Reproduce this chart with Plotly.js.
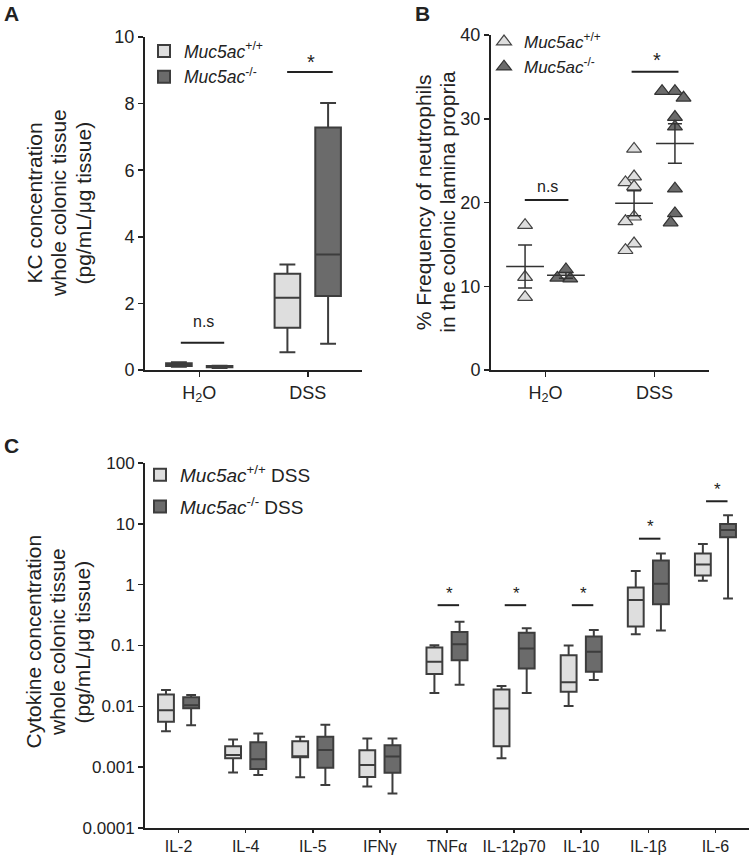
<!DOCTYPE html>
<html>
<head>
<meta charset="utf-8">
<script src="https://cdn.plot.ly/plotly-3.0.1.min.js"></script>
<style>html,body{margin:0;padding:0;background:#fff;}</style>
</head>
<body>
<div id="chart" style="width:752px;height:855px;"></div>
<script>
// ---------------- DATA ----------------
// Panel A: KC concentration (box summaries)
const aCategories = ['H<sub>2</sub>O', 'DSS'];
const aWtLow  = [0.10, 0.53];
const aWtQ1   = [0.12, 1.27];
const aWtMed  = [0.16, 2.17];
const aWtQ3   = [0.20, 2.89];
const aWtHigh = [0.23, 3.17];
const aKoLow  = [0.06, 0.79];
const aKoQ1   = [0.08, 2.22];
const aKoMed  = [0.10, 3.47];
const aKoQ3   = [0.12, 7.28];
const aKoHigh = [0.13, 8.02];

// Panel B: % neutrophils, individual mice
const bCategories = ['H<sub>2</sub>O', 'DSS'];
const bWtH2O = [17.3, 11.1, 8.7];
const bKoH2O = [12.0, 11.0, 10.9];
const bWtDSS = [26.4, 23.1, 22.4, 21.9, 18.3, 17.75, 15.1, 14.3];
const bKoDSS = [33.3, 33.3, 32.5, 30.2, 29.05, 21.65, 18.7, 17.6];

// Panel C: cytokines (box summaries)
const cCategories = ['IL-2', 'IL-4', 'IL-5', 'IFNγ', 'TNFα', 'IL-12p70', 'IL-10', 'IL-1β', 'IL-6'];
const cWtLow  = [0.0039, 0.00082, 0.00068, 0.00048, 0.0165, 0.0014, 0.0101, 0.153, 1.16];
const cWtQ1   = [0.0056, 0.0014, 0.00145, 0.00069, 0.034, 0.0022, 0.0173, 0.205, 1.42];
const cWtMed  = [0.0086, 0.00159, 0.0015, 0.00109, 0.054, 0.0092, 0.025, 0.56, 2.15];
const cWtQ3   = [0.0157, 0.0022, 0.00267, 0.0019, 0.093, 0.019, 0.069, 0.90, 3.25];
const cWtHigh = [0.0185, 0.00284, 0.00316, 0.00295, 0.101, 0.0215, 0.100, 1.68, 4.65];
const cKoLow  = [0.0049, 0.00074, 0.00051, 0.00037, 0.0227, 0.0165, 0.027, 0.176, 0.59];
const cKoQ1   = [0.0093, 0.00093, 0.00098, 0.00081, 0.057, 0.042, 0.037, 0.475, 6.0];
const cKoMed  = [0.0104, 0.00135, 0.00192, 0.0015, 0.105, 0.089, 0.079, 1.04, 7.9];
const cKoQ3   = [0.0141, 0.00257, 0.00316, 0.0023, 0.167, 0.162, 0.14, 2.50, 9.9];
const cKoHigh = [0.0154, 0.00356, 0.0050, 0.00295, 0.245, 0.192, 0.18, 3.26, 13.8];
const cTickVals = [0.0001, 0.001, 0.01, 0.1, 1, 10, 100];
const cTickText = ['0.0001', '0.001', '0.01', '0.1', '1', '10', '100'];
// significance marks in C: category and bar height
const cSigCats = ['TNFα', 'IL-12p70', 'IL-10', 'IL-1β', 'IL-6'];
const cSigBarY = [0.46, 0.46, 0.46, 5.7, 23.5];

// ---------------- STYLE / LAYOUT ----------------
const W = 752, H = 855;
const FONT = 'Arial, "Liberation Sans", Helvetica, sans-serif';
const INK = '#222';
const EDGE = '#3d3d3d';
const LIGHT = '#dedede';
const DARK = '#6b6b6b';
const fx = px => px / W;
const fy = py => 1 - py / H;

// pixel geometry of the three plot areas
const A_BOX = {l: 145, r: 362, t: 37, b: 370};
const B_BOX = {l: 491, r: 709, t: 35, b: 370};
const C_BOX = {l: 145, r: 749, t: 463, b: 828};
const B_YMAX = 40;

const axisBase = {
  showline: true, linecolor: INK, linewidth: 2,
  ticks: 'outside', ticklen: 5, tickwidth: 1.5, tickcolor: INK,
  showgrid: false, zeroline: false, fixedrange: true,
  tickfont: {family: FONT, size: 18, color: INK}
};

const lblWt = '<i>Muc5ac</i><sup>+/+</sup>';
const lblKo = '<i>Muc5ac</i><sup>-/-</sup>';

function boxTrace(name, x, lo, q1, med, q3, hi, fill, ax, ay, legend, grp) {
  return {
    type: 'box', name: name, x: x,
    lowerfence: lo, q1: q1, median: med, q3: q3, upperfence: hi,
    xaxis: ax, yaxis: ay, fillcolor: fill,
    line: {color: EDGE, width: 2}, whiskerwidth: 0.62,
    boxpoints: false, hoverinfo: 'skip',
    offsetgroup: grp, legend: legend, legendgroup: legend + grp
  };
}

// simple deterministic beeswarm in pixel space
function swarm(vals, center) {
  const pxX = (B_BOX.r - B_BOX.l) / 2;
  const pxY = (B_BOX.b - B_BOX.t) / B_YMAX;
  const step = 4.3, minD = 9.5;
  const order = vals.map((v, i) => i).sort((a, b) => vals[b] - vals[a]);
  const placed = [];
  const xs = new Array(vals.length);
  order.forEach(i => {
    const y = vals[i] * pxY;
    for (let k = 0; k < 40; k++) {
      const off = (k === 0) ? 0 : Math.ceil(k / 2) * step * (k % 2 ? -1 : 1);
      if (placed.every(p => Math.hypot(p.x - off, p.y - y) >= minD)) {
        placed.push({x: off, y: y});
        xs[i] = center + off / pxX;
        break;
      }
    }
  });
  return xs;
}
const mean = a => a.reduce((s, v) => s + v, 0) / a.length;
const sem = a => {
  const m = mean(a);
  return Math.sqrt(a.reduce((s, v) => s + (v - m) * (v - m), 0) / (a.length - 1)) / Math.sqrt(a.length);
};

const GOFF = 0.1875; // group offset of the two genotypes (category units)

const traces = [];
// Panel A
traces.push(boxTrace(lblWt, aCategories, aWtLow, aWtQ1, aWtMed, aWtQ3, aWtHigh, LIGHT, 'x', 'y', 'legend', 'wt'));
traces.push(boxTrace(lblKo, aCategories, aKoLow, aKoQ1, aKoMed, aKoQ3, aKoHigh, DARK, 'x', 'y', 'legend', 'ko'));

// Panel B
const bGroups = [
  {vals: bWtH2O, cat: 0, off: -GOFF, fill: LIGHT, line: '#444', name: lblWt, show: true},
  {vals: bKoH2O, cat: 0, off: GOFF, fill: DARK, line: '#333', name: lblKo, show: true},
  {vals: bWtDSS, cat: 1, off: -GOFF, fill: LIGHT, line: '#444', name: lblWt, show: false},
  {vals: bKoDSS, cat: 1, off: GOFF, fill: DARK, line: '#333', name: lblKo, show: false}
];
bGroups.forEach(g => {
  const c = g.cat + g.off;
  traces.push({
    type: 'scatter', mode: 'markers', xaxis: 'x2', yaxis: 'y2',
    x: swarm(g.vals, c), y: g.vals, name: g.name, showlegend: g.show,
    legend: 'legend2', hoverinfo: 'skip', cliponaxis: false,
    marker: {symbol: 'triangle-up', size: 13, color: g.fill, line: {color: g.line, width: 1.2}}
  });
  traces.push({
    type: 'scatter', mode: 'markers', xaxis: 'x2', yaxis: 'y2',
    x: [c], y: [mean(g.vals)], showlegend: false, hoverinfo: 'skip',
    marker: {symbol: 'line-ew', size: 27, color: '#333', line: {color: '#333', width: 1.5}},
    error_y: {type: 'data', array: [sem(g.vals)], visible: true, color: '#333', thickness: 1.5, width: 7}
  });
});

// Panel C
traces.push(boxTrace(lblWt + ' DSS', cCategories, cWtLow, cWtQ1, cWtMed, cWtQ3, cWtHigh, LIGHT, 'x3', 'y3', 'legend3', 'wt'));
traces.push(boxTrace(lblKo + ' DSS', cCategories, cKoLow, cKoQ1, cKoMed, cKoQ3, cKoHigh, DARK, 'x3', 'y3', 'legend3', 'ko'));

// ---------------- ANNOTATIONS & SHAPES ----------------
const shapes = [];
const annotations = [];
function sigLine(xref, yref, x0, x1, y) {
  shapes.push({type: 'line', xref: xref, yref: yref, x0: x0, x1: x1, y0: y, y1: y,
    line: {color: INK, width: 2}});
}
function txt(xref, yref, x, y, text, size, extra) {
  annotations.push(Object.assign({xref: xref, yref: yref, x: x, y: y, text: text, showarrow: false,
    xanchor: 'center', yanchor: 'middle', font: {family: FONT, size: size, color: INK}}, extra || {}));
}
// A
sigLine('x', 'y', -0.17, 0.23, 0.82);
txt('x', 'y', 0.04, 1.45, 'n.s', 16);
sigLine('x', 'y', 0.81, 1.23, 8.95);
txt('x', 'y', 1.03, 9.25, '*', 20);
// B
sigLine('x2', 'y2', -0.19, 0.21, 20.3);
txt('x2', 'y2', 0.02, 21.9, 'n.s', 16);
sigLine('x2', 'y2', 0.79, 1.22, 35.6);
txt('x2', 'y2', 1.02, 37.0, '*', 20);
// C
cSigCats.forEach((cat, i) => {
  const k = cCategories.indexOf(cat);
  sigLine('x3', 'y3', k - 0.14, k + 0.18, cSigBarY[i]);
  txt('x3', 'y3', k + 0.03, Math.log10(cSigBarY[i]) + 0.2, '*', 17);
});

// axis titles (rotated, one annotation per line for tight line spacing)
function vTitle(lines, cx, cy, gap, size) {
  lines.forEach((ln, i) => {
    const x = cx + (i - (lines.length - 1) / 2) * gap;
    txt('paper', 'paper', fx(x), fy(cy), ln, size, {textangle: -90});
  });
}
vTitle(['KC concentration', 'whole colonic tissue', '(pg/mL/μg tissue)'], 58, 203, 24.5, 21);
vTitle(['% Frequency of neutrophils', 'in the colonic lamina propria'], 435, 202, 23.5, 21);
vTitle(['Cytokine concentration', 'whole colonic tissue', '(pg/mL/μg tissue)'], 57, 642, 24.5, 21);
// panel letters
txt('paper', 'paper', fx(12), fy(14), '<b>A</b>', 21);
txt('paper', 'paper', fx(422), fy(14), '<b>B</b>', 21);
txt('paper', 'paper', fx(11), fy(445), '<b>C</b>', 21);

const legendBase = {
  xanchor: 'left', yanchor: 'top', bgcolor: 'rgba(0,0,0,0)', borderwidth: 0,
  itemclick: false, itemdoubleclick: false, orientation: 'v'
};

const layout = {
  width: W, height: H,
  margin: {l: 0, r: 0, t: 0, b: 0, pad: 0},
  paper_bgcolor: '#fff', plot_bgcolor: 'rgba(0,0,0,0)',
  font: {family: FONT, color: INK},
  boxmode: 'group', boxgap: 0.25, boxgroupgap: 0.37,
  showlegend: true,
  xaxis: Object.assign({}, axisBase, {domain: [fx(A_BOX.l), fx(A_BOX.r)], anchor: 'y', type: 'category',
    categoryorder: 'array', categoryarray: aCategories, range: [-0.5, 1.5]}),
  yaxis: Object.assign({}, axisBase, {domain: [fy(A_BOX.b), fy(A_BOX.t)], anchor: 'x', range: [0, 10], dtick: 2, tick0: 0}),
  xaxis2: Object.assign({}, axisBase, {domain: [fx(B_BOX.l), fx(B_BOX.r)], anchor: 'y2', range: [-0.5, 1.5],
    tickvals: [0, 1], ticktext: bCategories}),
  yaxis2: Object.assign({}, axisBase, {domain: [fy(B_BOX.b), fy(B_BOX.t)], anchor: 'x2', range: [0, B_YMAX], dtick: 10, tick0: 0}),
  xaxis3: Object.assign({}, axisBase, {domain: [fx(C_BOX.l), fx(C_BOX.r)], anchor: 'y3', type: 'category',
    categoryorder: 'array', categoryarray: cCategories, range: [-0.5, 8.5], ticklen: 3,
    tickfont: {family: FONT, size: 16, color: INK}}),
  yaxis3: Object.assign({}, axisBase, {domain: [fy(C_BOX.b), fy(C_BOX.t)], anchor: 'x3', type: 'log', range: [-4, 2],
    tickvals: cTickVals, ticktext: cTickText, tickfont: {family: FONT, size: 17, color: INK}}),
  legend: Object.assign({}, legendBase, {x: fx(144), y: fy(33), tracegroupgap: 0, font: {family: FONT, size: 17.5, color: INK}}),
  legend2: Object.assign({}, legendBase, {x: fx(484), y: fy(24), font: {family: FONT, size: 17, color: INK}}),
  legend3: Object.assign({}, legendBase, {x: fx(140), y: fy(456), tracegroupgap: 4, font: {family: FONT, size: 19, color: INK}}),
  shapes: shapes,
  annotations: annotations
};

Plotly.newPlot('chart', traces, layout, {staticPlot: true, displayModeBar: false});
</script>
</body>
</html>
